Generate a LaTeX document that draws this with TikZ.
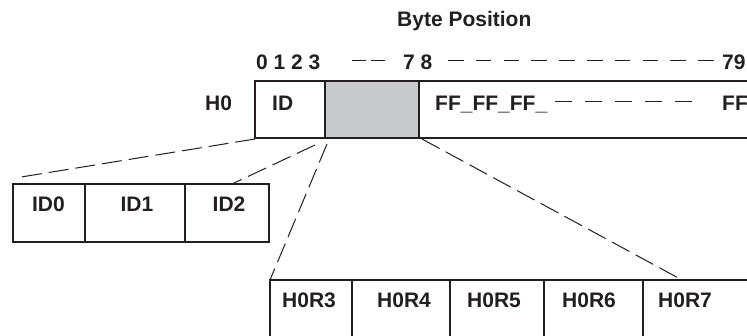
\documentclass[tikz,border=0pt]{standalone}
\usepackage{fontspec}
\setmainfont{Liberation Sans}
\definecolor{ink}{HTML}{231F20}
\definecolor{shade}{HTML}{C8C9CB}
\begin{document}
\begin{tikzpicture}[x=1pt,y=-1pt,
  lbl/.style={font=\fontsize{21}{24}\selectfont\bfseries, text=ink, inner sep=0pt, anchor=base west},
  clbl/.style={lbl, anchor=base},
  cell/.style={draw=ink, line width=2pt, inner sep=0pt, outer sep=0pt, anchor=north west},
  zoomline/.style={draw=ink, line width=1pt, dash pattern=on 20pt off 7pt},
  rule/.style={draw=ink, line width=1pt}]
\useasboundingbox (0,0) rectangle (747,336);
\clip (0,0) rectangle (747,336);

% header texts
\node[lbl] (title) at (397,27) {Byte Position};
\node[lbl] (n0123) at (256,70) {0 1 2 3};
\node[lbl] (n78) at (403,70) {7 8};
\node[lbl] (n79) at (722,70) {79};
\coordinate (d1a) at (352,61); \coordinate (d1b) at (385,61);
\coordinate (d2a) at (448,61); \coordinate (d2b) at (714,61);
\draw[rule, dash pattern=on 14pt off 5pt] (d1a) -- (d1b);
\draw[rule, dash pattern=on 15.5pt off 12.3pt] (d2a) -- (d2b);

% main row
\node[lbl] (h0) at (205,111) {H0};
\node[cell, minimum width=70pt, minimum height=57pt] (idf) at (255,81) {};
\node[cell, minimum width=340pt, minimum height=57pt] (ff) at (419,81) {};
\node[cell, fill=shade, minimum width=94pt, minimum height=57pt] (grey) at (325,81) {};
\node[lbl] (idt) at (272,111) {ID};
\node[lbl] (fft) at (435,111) {FF\_FF\_FF\_};
\node[lbl] (ffe) at (722,111) {FF};
\coordinate (d3a) at (555,102); \coordinate (d3b) at (692,102);
\draw[rule, dash pattern=on 17pt off 13pt] (d3a) -- (d3b);

% ID row
\node[cell, minimum width=72pt, minimum height=58pt] (id0) at (13,184) {};
\node[cell, minimum width=100pt, minimum height=58pt] (id1) at (85,184) {};
\node[cell, minimum width=84pt, minimum height=58pt] (id2) at (185,184) {};
\node[clbl] at (48.5,212) {ID0};
\node[clbl] at (137,212) {ID1};
\node[clbl] at (229,212) {ID2};

% H0R row
\node[cell, minimum width=82pt, minimum height=70pt] (r3) at (270,280) {};
\node[cell, minimum width=98pt, minimum height=70pt] (r4) at (352,280) {};
\node[cell, minimum width=94pt, minimum height=70pt] (r5) at (450,280) {};
\node[cell, minimum width=99pt, minimum height=70pt] (r6) at (544,280) {};
\node[cell, minimum width=120pt, minimum height=70pt] (r7) at (643,280) {};
\node[lbl] at (282,308) {H0R3};
\node[lbl] at (377,308) {H0R4};
\node[lbl] at (467,308) {H0R5};
\node[lbl] at (562,308) {H0R6};
\node[lbl] at (658,308) {H0R7};

% zoom connectors
\coordinate (c1a) at (255,139); \coordinate (c1b) at (15,178);
\coordinate (c2a) at (315,145); \coordinate (c2b) at (232,184);
\coordinate (c3a) at (327,144); \coordinate (c3b) at (270,280);
\coordinate (c4a) at (422,139); \coordinate (c4b) at (682,280);
\draw[zoomline] (c1a) -- (c1b);
\draw[zoomline] (c2a) -- (c2b);
\draw[zoomline] (c3a) -- (c3b);
\draw[zoomline] (c4a) -- (c4b);
\end{tikzpicture}
\end{document}
